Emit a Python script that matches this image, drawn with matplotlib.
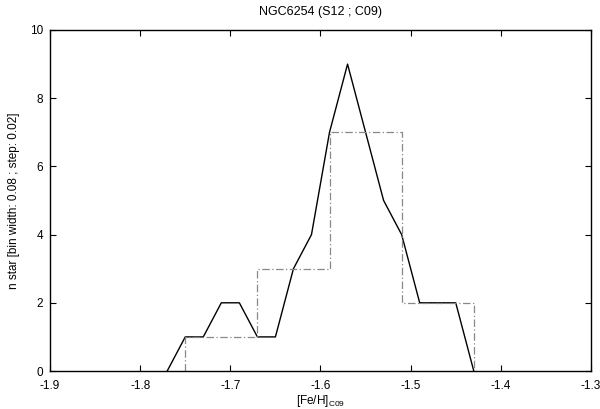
import matplotlib
matplotlib.use("Agg")
import matplotlib.pyplot as plt

plt.rcParams['font.family'] = ['Liberation Sans', 'DejaVu Sans']

# Running histogram (bin width 0.08, step 0.02)
run_x = [-1.77, -1.75, -1.73, -1.71, -1.69, -1.67, -1.65, -1.63, -1.61,
         -1.59, -1.57, -1.55, -1.53, -1.51, -1.49, -1.47, -1.45, -1.43]
run_n = [0, 1, 1, 2, 2, 1, 1, 3, 4, 7, 9, 7, 5, 4, 2, 2, 2, 0]

# Standard histogram bins (width 0.08)
bin_edges = [-1.75, -1.67, -1.59, -1.51, -1.43]
bin_counts = [1, 3, 7, 2]

xticks = [-1.9, -1.8, -1.7, -1.6, -1.5, -1.4, -1.3]
yticks = [0, 2, 4, 6, 8, 10]

fig = plt.figure(figsize=(6.0, 4.09), dpi=100)
ax = fig.add_axes([50/600, 1-371/409, 541/600, 341/409])

ax.plot(run_x, run_n, color='black', lw=1.0)

# step histogram with drops to zero at ends
sx = [bin_edges[0]]
sy = [0]
for i, c in enumerate(bin_counts):
    sx += [bin_edges[i], bin_edges[i+1]]
    sy += [c, c]
sx.append(bin_edges[-1])
sy.append(0)
ax.plot(sx, sy, color='#888888', lw=0.9, linestyle=(0, (6, 2, 1, 2)))

ax.set_xlim(-1.9, -1.3)
ax.set_ylim(0, 10)
ax.set_xticks(xticks)
ax.set_xticklabels([f"{t:g}" for t in xticks])
ax.set_yticks(yticks)
ax.tick_params(direction='in', top=True, right=True, labelsize=8.5, length=4, width=0.8)
ax.tick_params(axis='x', pad=6.5)
ax.tick_params(axis='y', pad=5)
for s in ax.spines.values():
    s.set_linewidth(1.0)

ax.text(0.5, 1, 'NGC6254 (S12 ; C09)', transform=ax.transAxes,
        fontsize=9, ha='center', va='center')
ax.title.set_visible(False)
t = ax.texts[-1]
t.set_transform(fig.transFigure)
t.set_position((50/600 + 541/1200, 1 - 11.5/409))
ax.set_xlabel(r'[Fe/H]$_{\mathregular{C09}}$', fontsize=8.5, labelpad=1)
ax.set_ylabel('n star [bin width: 0.08 ; step: 0.02]', fontsize=8.5, labelpad=7)

fig.savefig('out.png', dpi=100)
